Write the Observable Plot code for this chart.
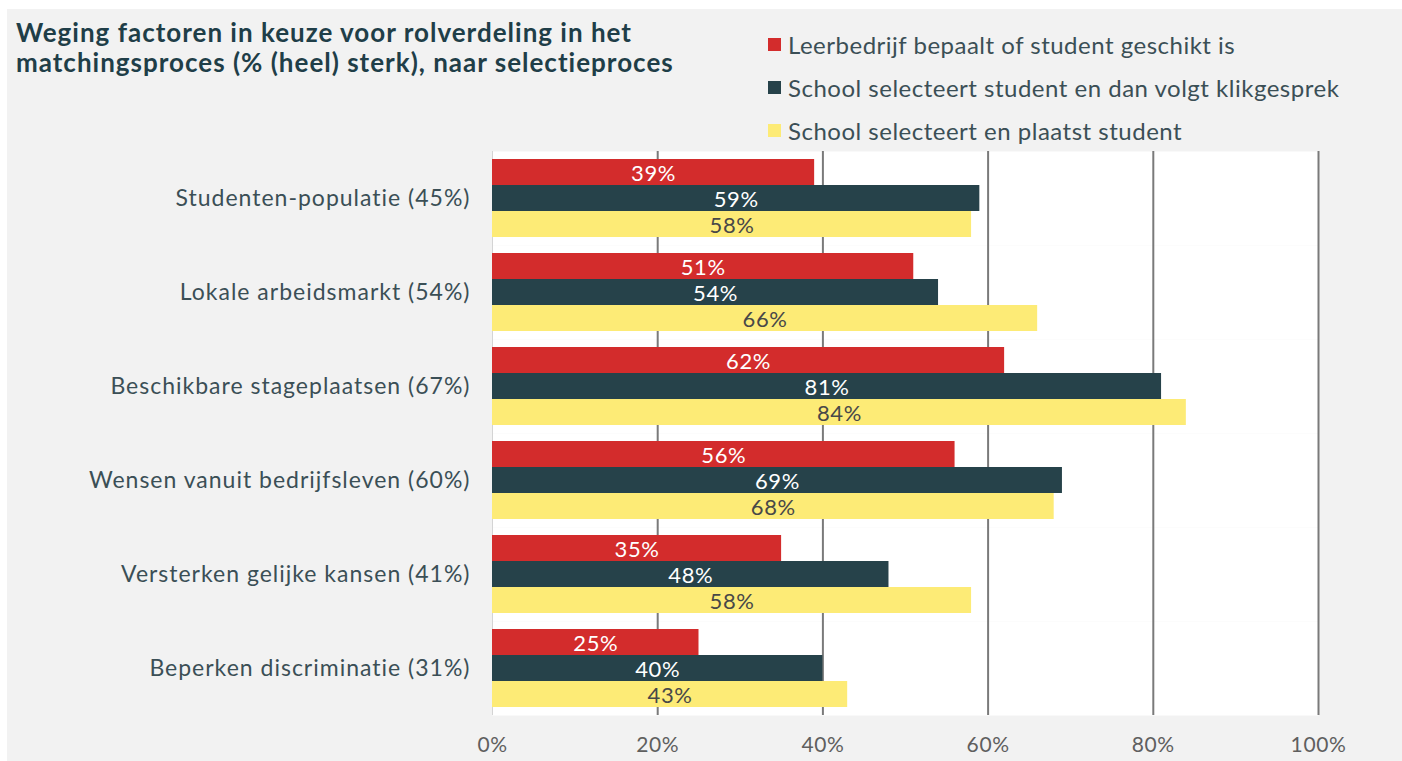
<!DOCTYPE html>
<html>
<head>
<meta charset="utf-8">
<script src="https://cdn.jsdelivr.net/npm/d3@7"></script>
<script src="https://cdn.jsdelivr.net/npm/@observablehq/plot@0.6"></script>
<style>
  html, body { margin: 0; padding: 0; background: #ffffff; }
  #wrap { position: relative; width: 1402px; height: 761px; overflow: hidden; }
  #bg { position: absolute; left: 7px; top: 9px; right: 0; bottom: 0; background: #f2f2f2; }
  #chart { position: absolute; left: 0; top: 0; }
  #title { position: absolute; left: 16px; top: 17px; font-family: Lato, sans-serif; font-weight: 700;
           font-size: 26px; line-height: 30px; color: #1f3e48; letter-spacing: 1px; white-space: nowrap; }
  #legend { position: absolute; left: 768px; top: 23px; font-family: Lato, sans-serif; font-size: 24px;
            color: #3b4f56; letter-spacing: 0.5px; white-space: nowrap; }
  .item { display: flex; align-items: center; height: 43px; }
  .sw { width: 13px; height: 13px; margin-right: 7px; }
  g[aria-label="fy-axis tick label"] text { letter-spacing: 1px; }
  g[aria-label="x-axis tick label"] text { letter-spacing: 0.6px; }
  g[aria-label="text"] text { letter-spacing: 0.6px; }
</style>
</head>
<body>
<div id="wrap">
  <div id="bg"></div>
  <div id="chart"></div>
  <div id="title">Weging factoren in keuze voor rolverdeling in het<br>matchingsproces (% (heel) sterk), naar selectieproces</div>
  <div id="legend"></div>
</div>
<script>
const categories = [
  "Studenten-populatie (45%)",
  "Lokale arbeidsmarkt (54%)",
  "Beschikbare stageplaatsen (67%)",
  "Wensen vanuit bedrijfsleven (60%)",
  "Versterken gelijke kansen (41%)",
  "Beperken discriminatie (31%)"
];
const series = [
  "Leerbedrijf bepaalt of student geschikt is",
  "School selecteert student en dan volgt klikgesprek",
  "School selecteert en plaatst student"
];
const leerbedrijf = [39, 51, 62, 56, 35, 25];
const klikgesprek = [59, 54, 81, 69, 48, 40];
const plaatst     = [58, 66, 84, 68, 58, 43];
const xTicks = [0, 20, 40, 60, 80, 100];
const colors = ["#d32c2c", "#26424a", "#fdeb76"];
const labelColors = ["#ffffff", "#ffffff", "#484848"];

const seriesValues = [leerbedrijf, klikgesprek, plaatst];
const data = categories.flatMap((c, i) =>
  series.map((s, j) => ({category: c, series: s, value: seriesValues[j][i], idx: j}))
);

const chart = Plot.plot({
  width: 1402,
  height: 761,
  marginLeft: 492,
  marginRight: 84,
  marginTop: 150,
  marginBottom: 46,
  style: {background: "transparent", fontFamily: "Lato, sans-serif"},
  x: {domain: [0, 100]},
  fy: {domain: categories, paddingInner: 0, paddingOuter: 0},
  y: {domain: series, paddingInner: 0, paddingOuter: 0.244, axis: null},
  color: {domain: series, range: colors},
  marks: [
    Plot.frame({fill: "white", stroke: "none"}),
    Plot.ruleX(xTicks.filter(d => d > 0), {stroke: "#7a7a7a", strokeWidth: 2}),
    Plot.ruleX(xTicks.filter(d => d === 0), {stroke: "#d4d4d4", strokeWidth: 1}),
    Plot.barX(data, {x: "value", y: "series", fy: "category", fill: "series"}),
    Plot.text(data, {
      x: d => d.value / 2, y: "series", fy: "category",
      text: d => d.value + "%", fill: d => labelColors[d.idx],
      fontSize: 22, fontWeight: 400, dy: 1
    }),
    Plot.axisFy({anchor: "left", tickSize: 0, tickPadding: 22, fontSize: 23, fill: "#3b4f56", label: null}),
    Plot.axisX({anchor: "bottom", ticks: xTicks, tickSize: 0, tickPadding: 22, fontSize: 21,
                fill: "#5f5f5f", tickFormat: d => d + "%", label: null})
  ]
});
document.getElementById("chart").appendChild(chart);

const legend = document.getElementById("legend");
series.forEach((s, j) => {
  const item = document.createElement("div");
  item.className = "item";
  const sw = document.createElement("div");
  sw.className = "sw";
  sw.style.background = colors[j];
  const t = document.createElement("span");
  t.textContent = s;
  item.appendChild(sw);
  item.appendChild(t);
  legend.appendChild(item);
});
</script>
</body>
</html>
